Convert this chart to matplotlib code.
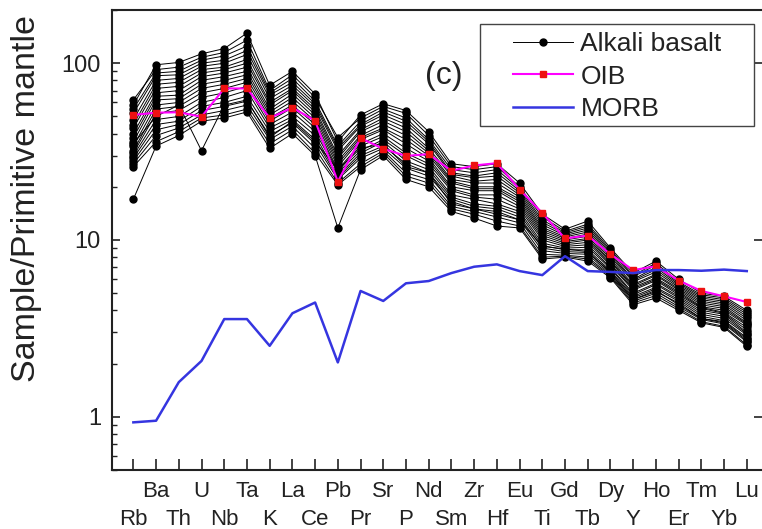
import matplotlib
matplotlib.use("Agg")
import matplotlib.pyplot as plt
from matplotlib.ticker import LogLocator, NullFormatter, FixedLocator, FixedFormatter
from matplotlib.patches import Rectangle

plt.rcParams['font.family'] = ['Liberation Sans', 'DejaVu Sans']

elements = ["Rb", "Ba", "Th", "U", "Nb", "Ta", "K", "La", "Ce", "Pb", "Pr", "Sr", "P", "Nd",
            "Sm", "Zr", "Hf", "Eu", "Ti", "Gd", "Tb", "Dy", "Y", "Ho", "Er", "Tm", "Yb", "Lu"]

oib = [51, 52.5, 52.8, 49.8, 72, 72, 49, 56, 47.3, 21.4, 37.7, 32.8, 29.9, 30.6,
       24.6, 26.4, 27.2, 19.3, 14.2, 10.2, 10.6, 8.3, 6.76, 7.1, 5.9, 5.15, 4.8, 4.46]

morb = [0.93, 0.95, 1.57, 2.07, 3.57, 3.57, 2.52, 3.85, 4.43, 2.03, 5.15, 4.52, 5.69, 5.86,
        6.5, 7.06, 7.28, 6.67, 6.33, 8.1, 6.67, 6.6, 6.5, 6.76, 6.76, 6.7, 6.8, 6.67]

s01 = [58, 98, 101, 113, 121, 148, 75, 90, 67, 36, 51, 59, 54, 41, 27, 26, 27, 21, 14, 11.5, 12.8, 9.0, 6.5, 7.6, 6.0, 5.0, 4.8, 4.0]
s02 = [62, 92, 95, 108, 115, 135, 70, 86, 64, 38, 49, 57, 52, 39, 26, 25, 26, 20, 13.5, 11.2, 12.3, 8.8, 6.3, 7.4, 5.8, 4.9, 4.7, 3.9]
s03 = [55, 88, 90, 104, 110, 125, 68, 82, 61, 34, 47, 55, 49, 37, 25, 24, 25, 19.5, 13, 11, 12, 8.6, 6.2, 7.2, 5.7, 4.8, 4.6, 3.8]
s04 = [52, 85, 86, 100, 104, 118, 66, 78, 59, 33, 45, 53, 47, 36, 24, 23, 24, 19, 12.6, 10.8, 11.7, 8.4, 6.0, 7.0, 5.6, 4.7, 4.5, 3.7]
s05 = [48, 80, 82, 96, 100, 112, 63, 75, 57, 32, 44, 51, 45, 35, 23.5, 22.5, 23, 18.5, 12.2, 10.6, 11.4, 8.2, 5.9, 6.8, 5.5, 4.6, 4.4, 3.6]
s06 = [45, 76, 78, 92, 95, 105, 60, 72, 55, 30, 42, 49, 43, 33, 23, 21.5, 22, 18, 11.8, 10.4, 11.1, 8.0, 5.8, 6.6, 5.4, 4.5, 4.3, 3.5]
s07 = [43, 72, 74, 88, 92, 100, 58, 70, 53, 29, 41, 47, 41, 32, 22, 21, 21, 17.5, 11.5, 10.2, 10.8, 7.8, 5.6, 6.4, 5.3, 4.4, 4.2, 3.4]
s08 = [40, 68, 70, 84, 88, 95, 55, 67, 51, 28, 39, 45, 39, 31, 21.5, 20, 20, 17, 11.2, 10, 10.5, 7.6, 5.5, 6.3, 5.2, 4.3, 4.1, 3.35]
s09 = [38, 65, 66, 80, 84, 90, 53, 64, 49, 27, 38, 43, 37, 30, 21, 19.5, 19.5, 16.5, 10.9, 9.8, 10.2, 7.5, 5.4, 6.1, 5.1, 4.2, 4.0, 3.3]
s10 = [36, 62, 63, 76, 80, 86, 51, 61, 47, 26, 37, 42, 35, 29, 20, 19, 19, 16, 10.6, 9.6, 10.0, 7.3, 5.3, 6.0, 5.0, 4.15, 3.9, 3.2]
s11 = [34, 58, 60, 72, 76, 82, 49, 58, 45, 25, 35, 40, 33, 28, 19.5, 18, 18, 15.5, 10.3, 9.4, 9.7, 7.2, 5.2, 5.9, 4.9, 4.1, 3.85, 3.1]
s12 = [32, 55, 57, 68, 72, 78, 47, 56, 43, 24.5, 34, 38.5, 31, 27, 19, 17.5, 17, 15, 10, 9.2, 9.4, 7.0, 5.0, 5.7, 4.8, 4.0, 3.8, 3.0]
s13 = [31, 52, 54, 64, 68, 74, 45, 53, 41, 24, 32, 37, 30, 26, 18, 17, 16, 14.5, 9.6, 9.0, 9.1, 6.9, 4.9, 5.6, 4.7, 3.9, 3.7, 2.95]
s14 = [30, 48, 50, 60, 64, 70, 43, 50, 39, 23, 31, 36, 28, 25, 17.5, 16, 15.5, 14, 9.3, 8.8, 8.8, 6.7, 4.8, 5.4, 4.6, 3.8, 3.6, 2.9]
s15 = [29, 45, 47, 57, 60, 65, 41, 48, 37, 22.5, 30, 34, 27, 24, 17, 15.5, 15, 13.5, 9.0, 8.6, 8.5, 6.6, 4.7, 5.3, 4.5, 3.7, 3.5, 2.8]
s16 = [28, 42, 45, 54, 57, 61, 39, 46, 35, 22, 29, 33, 25.5, 23, 16.5, 15, 14.5, 13, 8.7, 8.4, 8.3, 6.4, 4.6, 5.1, 4.4, 3.6, 3.45, 2.75]
s17 = [27, 39, 43, 51, 54, 58, 37, 44, 33, 21, 27, 32, 24, 22, 15.5, 14.5, 13.5, 12.5, 8.3, 8.2, 8.0, 6.3, 4.5, 5.0, 4.2, 3.55, 3.35, 2.65]
s18 = [26, 36, 41, 49, 51, 55, 35, 42, 31, 20.5, 26, 31, 23, 21, 15, 14, 12.8, 12, 8.0, 8.1, 7.8, 6.2, 4.4, 4.85, 4.1, 3.45, 3.25, 2.55]
s19 = [17, 34, 39, 47, 49, 53, 33, 40, 30, 11.7, 25, 30, 22, 20, 14.5, 13.3, 12, 11.7, 7.8, 8.0, 7.6, 6.1, 4.3, 4.7, 4.0, 3.4, 3.2, 2.5]
s20 = [35, 50, 58, 32, 58, 62, 38, 47, 36, 25, 33, 35, 26, 24, 16, 15, 14, 13, 9.2, 8.9, 8.6, 6.5, 4.6, 5.2, 4.3, 3.6, 3.4, 2.7]

samples = [s01, s02, s03, s04, s05, s06, s07, s08, s09, s10,
           s11, s12, s13, s14, s15, s16, s17, s18, s19, s20]

x = list(range(len(elements)))

fig = plt.figure(figsize=(7.62, 5.29), dpi=100)
ax = fig.add_axes([112/762, 59/529, 650/762, 460/529])

for i, s in enumerate(samples):
    ax.plot(x, s, color='black', lw=0.7, marker='o', ms=5, mec='black', mfc='black',
            label='Alkali basalt' if i == 0 else None, zorder=2)

ax.plot(x, oib, color='#FF00FF', lw=1.5, marker='s', ms=4, mfc='#EE1111', mec='#EE1111',
        label='OIB', zorder=3)
ax.plot(x, morb, color='#3535E0', lw=1.8, label='MORB', zorder=4)

ax.set_yscale('log')
ax.set_ylim(0.5, 200)
ax.set_xlim(-0.94, 27.67)

ax.yaxis.set_major_locator(FixedLocator([1, 10, 100]))
ax.yaxis.set_major_formatter(FixedFormatter(['1', '10', '100']))
ax.yaxis.set_minor_locator(LogLocator(base=10, subs=[2, 3, 4, 5, 6, 7, 8, 9]))
ax.yaxis.set_minor_formatter(NullFormatter())

even = [i for i in x if i % 2 == 0]
odd = [i for i in x if i % 2 == 1]
ax.set_xticks(even, [elements[i] for i in even])
ax.set_xticks(odd, [elements[i] for i in odd], minor=True)

tc = '#222222'
ax.tick_params(axis='x', which='both', direction='in', length=8, width=1.2, top=False,
               labelsize=16, colors=tc)
ax.tick_params(axis='x', which='major', pad=28)
ax.tick_params(axis='x', which='minor', pad=8)
ax.tick_params(axis='y', which='major', direction='in', length=6, width=1.2, left=True,
               right=True, labelsize=17, pad=8, colors=tc)
ax.tick_params(axis='y', which='minor', direction='in', length=3.5, width=1.0, left=True,
               right=False, colors=tc)

for sp in ['left', 'bottom', 'top']:
    ax.spines[sp].set_linewidth(1.5)
    ax.spines[sp].set_color('#222222')
ax.spines['right'].set_visible(False)

ax.set_ylabel('Sample/Primitive mantle', fontsize=24.5, color=tc)
ax.yaxis.set_label_coords(-0.108, 0.59)

ax.text((444-112)/650, (470-76)/460, '(c)', transform=ax.transAxes, fontsize=23,
        ha='center', va='center', color=tc)

leg = ax.legend(loc='upper left', bbox_to_anchor=(0.601, 0.975), borderaxespad=0,
                frameon=False, fontsize=19, handlelength=2.25, handletextpad=0.3,
                labelspacing=0.32)
for t in leg.get_texts():
    t.set_color(tc)
ax.add_patch(Rectangle((0.566, 0.748), 0.988 - 0.566, 0.9696 - 0.748, transform=ax.transAxes,
                       fill=False, lw=1.0, ec='#444444', zorder=5))

fig.savefig('out.png', dpi=100)
